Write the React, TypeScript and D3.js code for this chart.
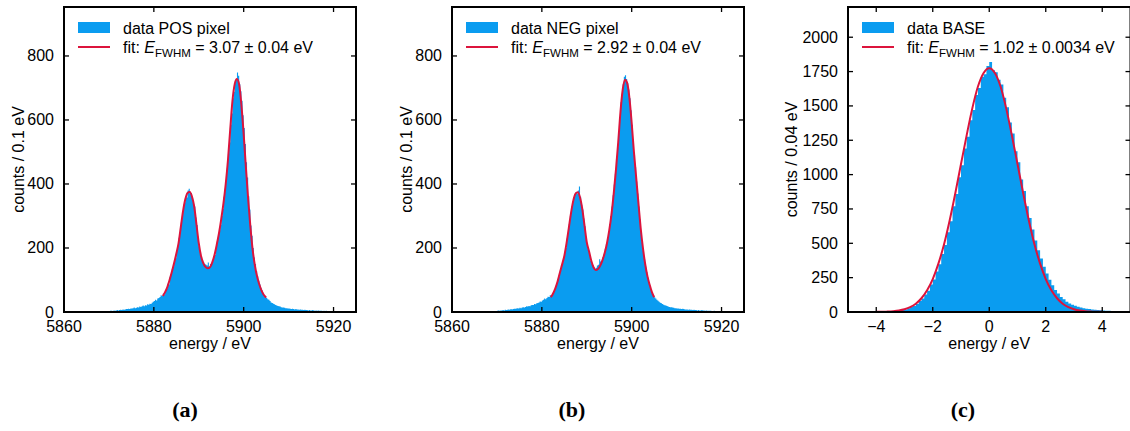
import * as d3 from "d3";
import React from "react";

// axis ticks
const energyTicksAB = [5860, 5880, 5900, 5920];
const energyTicksC = [-4, -2, 0, 2, 4];
const countTicksAB = [0, 200, 400, 600, 800];
const countTicksC = [0, 250, 500, 750, 1000, 1250, 1500, 1750, 2000];

// histogram bins: (a),(b) 0.25 eV wide starting at 5870 eV, counts per 0.1 eV
const binStartAB = 5870;
const binWidthAB = 0.25;
const posCounts = [
  3, 4, 4, 3, 5, 4, 5, 6, 5, 6, 7, 6, 8, 7, 8, 9, 9, 10, 9, 11, 11, 12, 14, 12,
  13, 15, 14, 17, 16, 18, 20, 18, 21, 20, 24, 23, 26, 25, 29, 32, 34, 38, 36, 42, 44, 47, 52, 50,
  58, 55, 68, 72, 88, 86, 110, 118, 134, 140, 162, 168, 190, 205, 232, 250,
  280, 300, 335, 342, 362, 358, 380, 385, 370, 372, 355, 338, 330, 295, 272, 235,
  205, 190, 170, 160, 155, 150, 148, 145, 155, 142, 150, 152, 160, 175, 178, 200,
  220, 235, 255, 272, 300, 322, 360, 385, 410, 450, 495, 530, 585, 620, 668, 688,
  715, 728, 748, 738, 712, 690, 660, 615, 575, 525, 468, 420, 362, 320, 270, 238,
  200, 170, 150, 128, 112, 98, 86, 76, 68, 60, 52, 50,
  44, 40, 38, 34, 30, 28, 26, 24, 22, 20, 19, 18, 17, 15, 14, 14, 13, 12, 12, 11,
  11, 10, 9, 10, 9, 8, 9, 8, 8, 7, 8, 7, 7, 6, 7, 6, 6, 5, 6, 5, 5, 6, 5, 4,
  5, 4, 5, 4, 4, 4, 3, 4, 3, 4, 3, 3, 2, 2, 0, 0,
];
const negCounts = [
  4, 5, 4, 5, 5, 6, 5, 7, 6, 7, 8, 7, 9, 8, 9, 10, 10, 11, 12, 11, 13, 12, 14, 15,
  14, 16, 18, 17, 19, 18, 21, 22, 22, 25, 24, 27, 28, 30, 33, 32, 36, 38, 42, 40, 44, 48, 47, 52,
  52, 54, 64, 70, 82, 90, 104, 110, 130, 145, 155, 172, 188, 200, 230, 248,
  275, 300, 330, 345, 358, 368, 375, 370, 380, 392, 360, 335, 320, 292, 268, 232,
  215, 195, 178, 160, 150, 146, 140, 135, 138, 145, 148, 165, 158, 160, 172, 182,
  198, 212, 230, 252, 275, 300, 330, 365, 398, 432, 478, 515, 560, 608, 655, 682,
  712, 735, 740, 728, 715, 695, 668, 630, 585, 540, 490, 452, 408, 370, 330, 290,
  250, 218, 190, 165, 142, 125, 108, 94, 80, 70, 60, 52,
  46, 42, 38, 35, 32, 29, 27, 25, 23, 21, 20, 19, 17, 16, 15, 15, 14, 13, 12, 12,
  11, 11, 10, 10, 9, 10, 9, 8, 8, 8, 7, 8, 7, 7, 6, 7, 6, 6, 5, 6, 5, 5, 6, 5,
  5, 4, 5, 4, 4, 4, 4, 3, 3, 4, 3, 3, 3, 2, 3, 2,
];

// (c) bins 0.1 eV wide starting at -4.6 eV, counts per 0.04 eV
const binStartC = -4.6;
const binWidthC = 0.1;
const baseCounts = [
  0, 0, 0, 0, 0, 1, 1, 1, 2, 2, 3, 4, 6, 8, 10, 14, 19, 27, 36, 44,
  58, 80, 98, 128, 155, 200, 236, 295, 348, 423, 488, 580, 660, 770, 858, 980, 1068, 1190, 1275, 1395,
  1470, 1580, 1630, 1710, 1730, 1790, 1820, 1760, 1745, 1690, 1655, 1560, 1490, 1380, 1300, 1170, 1090, 965, 880, 770,
  685, 600, 520, 450, 390, 330, 280, 235, 195, 160, 135, 110, 92, 75, 62, 52, 45, 38, 33, 28,
  24, 21, 18, 16, 14, 12, 11, 10, 9, 8, 7, 6, 6, 5,
];

// fit curves, sampled every 0.5 eV (a,b) / 0.2 eV (c)
const fitEnergyAB = d3.range(5882, 5905.001, 0.5);
const posFit = [
  50, 62, 78, 100, 125, 152, 182, 215, 265, 315, 352, 372, 375, 360, 328, 272, 215, 175, 153, 141,
  137, 140, 155, 178, 210, 246, 290, 340, 400, 475, 570, 660, 712, 728, 710, 645, 555, 450, 352, 265,
  194, 145, 110, 85, 66, 53, 45,
];
const negFit = [
  46, 58, 74, 95, 122, 148, 175, 215, 262, 310, 348, 370, 374, 358, 322, 270, 218, 190, 160, 140,
  131, 134, 145, 162, 185, 215, 255, 305, 370, 445, 530, 625, 695, 726, 715, 668, 590, 500, 420, 340,
  262, 200, 150, 112, 85, 62, 46,
];
const fitEnergyC = d3.range(-4, 4.001, 0.2);
const baseFit = [
  1, 1, 3, 6, 11, 20, 35, 60, 100, 158, 240, 352, 493, 668, 866, 1077, 1286, 1482, 1641, 1740,
  1775, 1740, 1641, 1482, 1286, 1077, 866, 668, 493, 352, 240, 158, 100, 60, 35, 20, 11, 6, 3, 1, 1,
];

const BLUE = "#0a9cf0";
const RED = "#dc143c";
const FONT = "'Liberation Sans', Arial, Helvetica, sans-serif";
const FS = 16;

const TOP = 7;
const BOTTOM = 312;

const Panel = ({ left, right, xDomain, yDomain, xTicks, yTicks, counts, binStart, binWidth,
  fitX, fitY, dataLabel, fitValue, yLabel, yLabelX, caption, captionX, fmtX, id }) => {
  const x = d3.scaleLinear().domain(xDomain).range([left, right]);
  const y = d3.scaleLinear().domain(yDomain).range([BOTTOM, TOP]);

  const pts = counts.map((c, i) => [binStart + i * binWidth, c]);
  pts.push([binStart + counts.length * binWidth, counts[counts.length - 1]]);
  const area = d3.area()
    .x((d) => x(d[0]))
    .y0(y(0))
    .y1((d) => y(d[1]))
    .curve(d3.curveStepAfter);

  const line = d3.line()
    .x((d) => x(d[0]))
    .y((d) => y(d[1]))
    .curve(d3.curveMonotoneX);
  const fitPts = fitX.map((e, i) => [e, fitY[i]]);

  const tl = 5;
  const lx = left + 14;

  return (
    <g>
      <defs>
        <clipPath id={"clip" + id}>
          <rect x={left} y={TOP} width={right - left} height={BOTTOM - TOP} />
        </clipPath>
      </defs>
      <g clipPath={`url(#clip${id})`}>
        <path d={area(pts)} fill={BLUE} />
        <path d={line(fitPts)} fill="none" stroke={RED} strokeWidth={2} />
      </g>

      {xTicks.map((t) => (
        <g key={"x" + t}>
          <line x1={x(t)} x2={x(t)} y1={BOTTOM} y2={BOTTOM - tl} stroke="#000" strokeWidth={1.3} />
          <line x1={x(t)} x2={x(t)} y1={TOP} y2={TOP + tl} stroke="#000" strokeWidth={1.3} />
          <text x={x(t)} y={BOTTOM + 19.5} textAnchor="middle" fontSize={FS} fontFamily={FONT}>
            {fmtX(t)}
          </text>
        </g>
      ))}
      {yTicks.map((t) => (
        <g key={"y" + t}>
          <line x1={left} x2={left + tl} y1={y(t)} y2={y(t)} stroke="#000" strokeWidth={1.3} />
          <line x1={right} x2={right - tl} y1={y(t)} y2={y(t)} stroke="#000" strokeWidth={1.3} />
          <text x={left - 10} y={y(t) + 5.5} textAnchor="end" fontSize={FS} fontFamily={FONT}>
            {t}
          </text>
        </g>
      ))}
      <rect x={left} y={TOP} width={right - left} height={BOTTOM - TOP} fill="none" stroke="#000" strokeWidth={2} />

      <text x={(left + right) / 2} y={BOTTOM + 37} textAnchor="middle" fontSize={FS} fontFamily={FONT}>
        energy / eV
      </text>
      <text transform={`translate(${yLabelX},${(TOP + BOTTOM) / 2}) rotate(-90)`} textAnchor="middle"
        fontSize={FS} fontFamily={FONT}>
        {yLabel}
      </text>

      <rect x={lx} y={22} width={32} height={11} fill={BLUE} />
      <line x1={lx} x2={lx + 32} y1={47} y2={47} stroke={RED} strokeWidth={2} />
      <text x={lx + 45} y={33.5} fontSize={FS} fontFamily={FONT}>{dataLabel}</text>
      <text x={lx + 45} y={52.5} fontSize={FS} fontFamily={FONT}>
        fit: <tspan fontStyle="italic">E</tspan>
        <tspan fontSize={11.5} dy={4}>FWHM</tspan>
        <tspan dy={-4}>{" = " + fitValue}</tspan>
      </text>

      <text x={captionX} y={417} textAnchor="middle" fontSize={22} fontWeight="bold"
        fontFamily="'Liberation Serif', 'DejaVu Serif', serif">
        {caption}
      </text>
    </g>
  );
};

export default function App() {
  const fmtE = (t) => String(t);
  const fmtC = (t) => (t < 0 ? "\u2212" + Math.abs(t) : String(t));
  return (
    <svg width={1130} height={431} style={{ position: "absolute", left: 0, top: 0, background: "#fff" }}>
      <Panel id="a" left={64} right={356} xDomain={[5860, 5925]} yDomain={[0, 953]}
        xTicks={energyTicksAB} yTicks={countTicksAB} counts={posCounts} binStart={binStartAB}
        binWidth={binWidthAB} fitX={fitEnergyAB} fitY={posFit} dataLabel="data POS pixel"
        fitValue="3.07 ± 0.04 eV" yLabel="counts / 0.1 eV" yLabelX={24} caption="(a)" captionX={185} fmtX={fmtE} />
      <Panel id="b" left={452} right={744} xDomain={[5860, 5925]} yDomain={[0, 953]}
        xTicks={energyTicksAB} yTicks={countTicksAB} counts={negCounts} binStart={binStartAB}
        binWidth={binWidthAB} fitX={fitEnergyAB} fitY={negFit} dataLabel="data NEG pixel"
        fitValue="2.92 ± 0.04 eV" yLabel="counts / 0.1 eV" yLabelX={412} caption="(b)" captionX={572} fmtX={fmtE} />
      <Panel id="c" left={848} right={1130.5} xDomain={[-5, 5]} yDomain={[0, 2220]}
        xTicks={energyTicksC} yTicks={countTicksC} counts={baseCounts} binStart={binStartC}
        binWidth={binWidthC} fitX={fitEnergyC} fitY={baseFit} dataLabel="data BASE"
        fitValue="1.02 ± 0.0034 eV" yLabel="counts / 0.04 eV" yLabelX={797} caption="(c)" captionX={963} fmtX={fmtC} />
    </svg>
  );
}
